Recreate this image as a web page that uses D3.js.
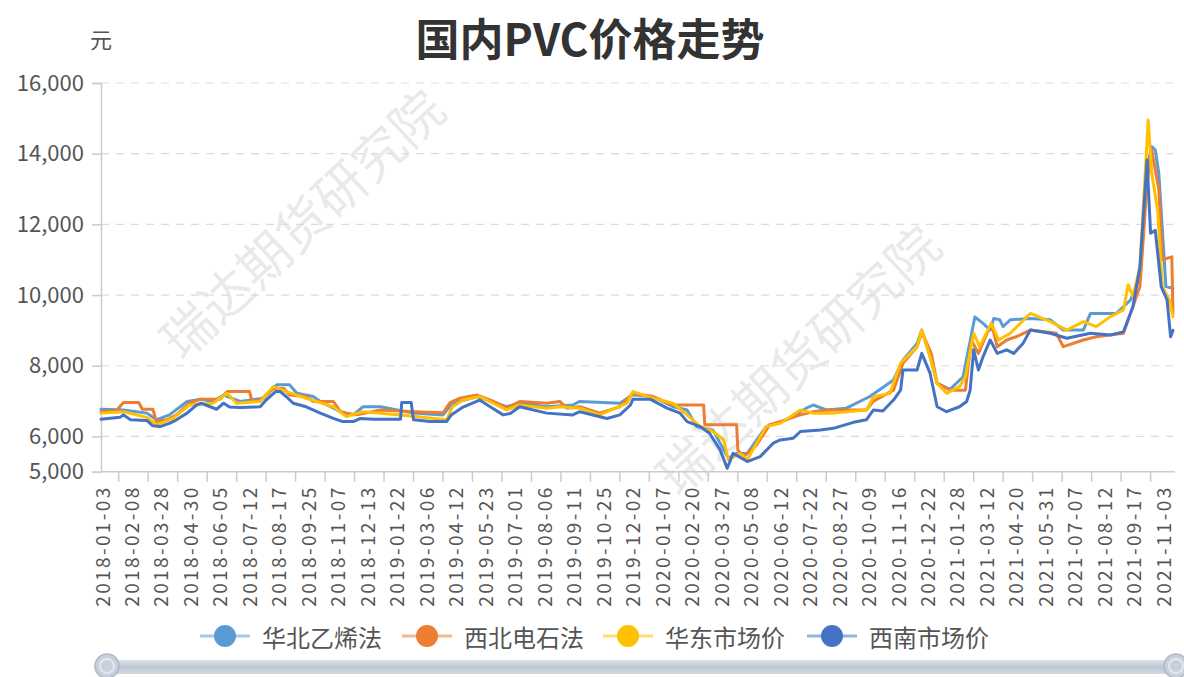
<!DOCTYPE html>
<html>
<head>
<meta charset="utf-8">
<script src="https://cdn.jsdelivr.net/npm/d3@7"></script>
<style>
  body { margin: 0; background: #fff; }
  text { font-family: "Noto Sans CJK SC", "Noto Sans", sans-serif; }
</style>
</head>
<body>
<svg id="chart"></svg>
<script>
// x labels (one every 25 trading days)
const xLabels = ['2018-01-03','2018-02-08','2018-03-28','2018-04-30','2018-06-05','2018-07-12','2018-08-17',
  '2018-09-25','2018-11-07','2018-12-13','2019-01-22','2019-03-06','2019-04-12','2019-05-23','2019-07-01',
  '2019-08-06','2019-09-11','2019-10-25','2019-12-02','2020-01-07','2020-02-20','2020-03-27','2020-05-08',
  '2020-06-12','2020-07-22','2020-08-27','2020-10-09','2020-11-16','2020-12-22','2021-01-28','2021-03-12',
  '2021-04-20','2021-05-31','2021-07-07','2021-08-12','2021-09-17','2021-11-03'];
const labelStep = 25;
const nDays = 910;
const yTicks = [5000, 6000, 8000, 10000, 12000, 14000, 16000];

const seriesNames = ['华北乙烯法', '西北电石法', '华东市场价', '西南市场价'];
const seriesColors = ['#5b9bd5', '#ed7d31', '#ffc000', '#4472c4'];

// [trading-day index, price]
const huabei = [[0,6770],[19,6750],[39,6660],[47,6470],[58,6610],[73,6990],[85,7050],[95,6990],[104,7170],
  [118,6990],[138,7080],[149,7460],[160,7460],[166,7220],[180,7130],[186,6990],[203,6700],[214,6610],
  [222,6840],[237,6840],[248,6770],[265,6660],[290,6610],[298,6940],[319,7130],[344,6840],[355,6940],
  [378,6840],[400,6890],[406,6990],[440,6940],[451,7180],[468,7130],[485,6840],[497,6750],[505,6280],
  [519,6180],[528,5620],[532,5380],[539,5520],[548,5520],[564,6280],[581,6470],[598,6800],[604,6890],
  [615,6750],[632,6800],[652,7130],[672,7600],[680,8160],[692,8630],[696,9010],[703,8260],[709,7500],
  [720,7330],[731,7690],[741,9380],[748,9200],[754,9010],[757,9340],[762,9300],[765,9110],[771,9300],
  [788,9340],[805,9300],[816,9010],[833,9010],[839,9480],[861,9480],[873,9860],[881,10520],[887,13630],
  [891,14200],[894,14100],[897,13440],[903,10240],[909,10190]];

const xibei = [[0,6700],[13,6730],[19,6960],[32,6960],[35,6770],[44,6770],[47,6420],[56,6470],[64,6610],
  [75,6940],[84,7050],[101,7050],[107,7270],[126,7270],[128,6990],[135,7030],[146,7360],[155,7360],
  [160,7170],[174,7130],[180,6990],[197,6990],[203,6700],[208,6660],[217,6610],[237,6750],[265,6700],
  [290,6670],[296,6960],[304,7080],[319,7170],[333,6990],[344,6800],[355,6990],[378,6940],[389,6990],
  [395,6800],[406,6840],[423,6660],[440,6840],[451,7220],[468,7130],[485,6890],[511,6890],[512,6330],
  [539,6330],[540,5620],[545,5430],[556,5760],[567,6330],[576,6420],[593,6610],[604,6700],[615,6750],
  [649,6750],[655,7000],[672,7310],[680,8070],[692,8540],[696,8960],[704,8350],[709,7500],[720,7310],
  [733,7310],[738,8730],[744,8350],[755,9200],[760,8540],[768,8730],[776,8820],[788,9010],[810,8920],
  [816,8540],[833,8730],[844,8820],[867,8920],[873,9480],[881,10240],[887,13160],[891,14100],[897,12980],
  [900,11000],[908,11080],[909,9480]];

const huadong = [[0,6660],[19,6700],[39,6540],[47,6330],[61,6510],[75,6890],[95,6940],[107,7220],[115,6940],
  [135,6990],[146,7410],[157,7270],[174,7080],[197,6840],[208,6560],[222,6700],[254,6610],[293,6470],
  [298,6840],[307,7030],[321,7130],[344,6750],[355,6890],[378,6800],[389,6840],[406,6800],[423,6610],
  [446,6940],[451,7270],[468,7080],[485,6940],[497,6610],[508,6280],[519,6140],[528,5900],[532,5340],
  [542,5520],[548,5340],[564,6280],[576,6370],[593,6750],[604,6660],[621,6660],[649,6750],[655,7120],
  [669,7220],[678,8070],[692,8540],[696,9010],[703,8260],[709,7500],[717,7220],[728,7410],[733,7690],
  [740,8920],[745,8540],[755,9200],[761,8730],[771,8920],[788,9480],[805,9250],[819,9010],[833,9250],
  [844,9110],[856,9390],[867,9580],[871,10290],[875,9960],[881,10800],[888,14950],[891,13440],[896,12400],
  [900,10240],[906,9860],[909,9390]];

const xinan = [[0,6490],[16,6540],[19,6610],[25,6470],[39,6450],[44,6300],[50,6280],[58,6370],[64,6470],
  [73,6660],[81,6890],[85,6940],[98,6770],[104,6940],[109,6830],[118,6820],[135,6840],[140,7030],[148,7270],
  [152,7270],[157,7130],[163,6940],[174,6840],[186,6660],[197,6510],[205,6420],[214,6420],[220,6510],
  [231,6490],[254,6490],[255,6960],[263,6960],[265,6470],[279,6420],[293,6420],[297,6610],[307,6830],
  [321,7030],[330,6840],[341,6610],[347,6650],[355,6840],[378,6660],[400,6610],[406,6700],[429,6510],
  [440,6610],[449,6890],[451,7050],[466,7050],[480,6800],[491,6660],[497,6420],[508,6280],[516,6090],
  [525,5620],[531,5100],[536,5520],[548,5290],[559,5430],[570,5810],[576,5900],[587,5950],[593,6140],
  [610,6180],[621,6230],[638,6400],[649,6470],[655,6750],[663,6720],[672,7030],[678,7310],[680,7880],
  [692,7880],[696,8350],[703,7790],[709,6840],[717,6700],[728,6840],[734,6990],[737,7310],[740,8450],
  [744,7880],[748,8260],[754,8730],[760,8350],[768,8450],[774,8350],[782,8640],[788,9010],[805,8920],
  [819,8780],[839,8920],[856,8870],[867,8960],[875,9670],[881,10800],[887,13820],[890,11750],[894,11830],
  [899,10240],[904,9860],[907,8820],[909,9000]];

const allSeries = [huabei, xibei, huadong, xinan];

const WIDTH = 1184, HEIGHT = 677;
const svg = d3.select('#chart').attr('width', WIDTH).attr('height', HEIGHT);

const x = d3.scaleLinear().domain([0, nDays - 1]).range([101, 101 + (nDays - 1) * 1.1793]);
const y = d3.scaleLinear().domain([5000, 16000]).range([471.8, 83]);

// watermark
[[300, 222], [796, 358]].forEach(p => {
  svg.append('text')
    .attr('transform', `translate(${p[0]},${p[1]}) rotate(-43)`)
    .attr('text-anchor', 'middle')
    .attr('dominant-baseline', 'central')
    .attr('font-size', 52)
    .attr('fill', '#000')
    .attr('fill-opacity', 0.085)
    .text('瑞达期货研究院');
});

// title
svg.append('text')
  .attr('x', 590).attr('y', 56)
  .attr('text-anchor', 'middle')
  .attr('font-size', 44).attr('font-weight', 'bold')
  .attr('fill', '#333')
  .text('国内PVC价格走势');

svg.append('text')
  .attr('x', 101).attr('y', 48)
  .attr('text-anchor', 'middle')
  .attr('font-size', 22).attr('fill', '#555')
  .text('元');

// grid
svg.append('g').selectAll('line')
  .data(yTicks.filter(d => d > 5000))
  .join('line')
  .attr('x1', 101).attr('x2', x(nDays - 1))
  .attr('y1', d => y(d)).attr('y2', d => y(d))
  .attr('stroke', '#dcdcdc').attr('stroke-width', 1.2)
  .attr('stroke-dasharray', '8,7');

// y axis
const yAxis = svg.append('g')
  .attr('transform', 'translate(101,0)')
  .call(d3.axisLeft(y).tickValues(yTicks).tickFormat(d3.format(',')).tickSize(9).tickPadding(8));
yAxis.select('.domain').attr('stroke', '#ccc').attr('stroke-width', 1.5);
yAxis.selectAll('.tick line').attr('stroke', '#ccc').attr('stroke-width', 1.5);
yAxis.selectAll('.tick text')
  .attr('font-size', 22).attr('fill', '#555')
  .style('font-family', '"Noto Sans CJK SC", sans-serif');

// x axis
const xAxis = svg.append('g').attr('transform', `translate(0,${y(5000)})`);
xAxis.append('line')
  .attr('x1', 101).attr('x2', x(nDays - 1) + 2)
  .attr('stroke', '#ccc').attr('stroke-width', 1.5);
xAxis.selectAll('.xtick')
  .data(d3.range(xLabels.length - 1))
  .join('line')
  .attr('class', 'xtick')
  .attr('x1', i => x(i * labelStep + 15)).attr('x2', i => x(i * labelStep + 15))
  .attr('y1', 0).attr('y2', 10)
  .attr('stroke', '#ccc').attr('stroke-width', 1.5);
xAxis.selectAll('.xlabel')
  .data(xLabels)
  .join('text')
  .attr('class', 'xlabel')
  .attr('transform', (d, i) => `translate(${x(i * labelStep)},16) rotate(-90)`)
  .attr('text-anchor', 'end')
  .attr('dominant-baseline', 'central')
  .attr('font-size', 19)
  .attr('textLength', 119)
  .attr('lengthAdjust', 'spacing')
  .attr('fill', '#555')
  .text(d => d);

// lines
const line = d3.line()
  .x(d => x(d[0]))
  .y(d => y(d[1]))
  .curve(d3.curveLinear);

svg.append('g').selectAll('path')
  .data(allSeries)
  .join('path')
  .attr('fill', 'none')
  .attr('stroke', (d, i) => seriesColors[i])
  .attr('stroke-width', 3)
  .attr('stroke-linejoin', 'round')
  .attr('stroke-linecap', 'round')
  .attr('d', line);

// legend
const legendX = [200, 402, 603, 807];
const legend = svg.append('g').selectAll('g')
  .data(seriesNames)
  .join('g')
  .attr('transform', (d, i) => `translate(${legendX[i]},636)`);
legend.append('line')
  .attr('x1', 0).attr('x2', 50)
  .attr('stroke', (d, i) => seriesColors[i])
  .attr('stroke-opacity', 0.55)
  .attr('stroke-width', 3);
legend.append('circle')
  .attr('cx', 25).attr('r', 11)
  .attr('fill', (d, i) => seriesColors[i]);
legend.append('text')
  .attr('x', 62)
  .attr('dominant-baseline', 'central')
  .attr('font-size', 24)
  .attr('fill', '#555')
  .text(d => d);

// data zoom slider (full range)
const grad = svg.append('defs').append('linearGradient')
  .attr('id', 'bar').attr('x1', 0).attr('x2', 0).attr('y1', 0).attr('y2', 1);
grad.append('stop').attr('offset', '0%').attr('stop-color', '#dfe4eb');
grad.append('stop').attr('offset', '50%').attr('stop-color', '#bcc5d2');
grad.append('stop').attr('offset', '100%').attr('stop-color', '#d5dbe4');
svg.append('rect')
  .attr('x', 100).attr('y', 660)
  .attr('width', 1080).attr('height', 14)
  .attr('rx', 6)
  .attr('fill', 'url(#bar)');
[107, 1176].forEach(cx => {
  svg.append('circle').attr('cx', cx).attr('cy', 666).attr('r', 12)
    .attr('fill', '#c9d0db').attr('stroke', '#aeb8c6').attr('stroke-width', 1.5);
  svg.append('circle').attr('cx', cx).attr('cy', 666).attr('r', 7)
    .attr('fill', 'none').attr('stroke', '#e4e8ee').attr('stroke-width', 2);
});
</script>
</body>
</html>
